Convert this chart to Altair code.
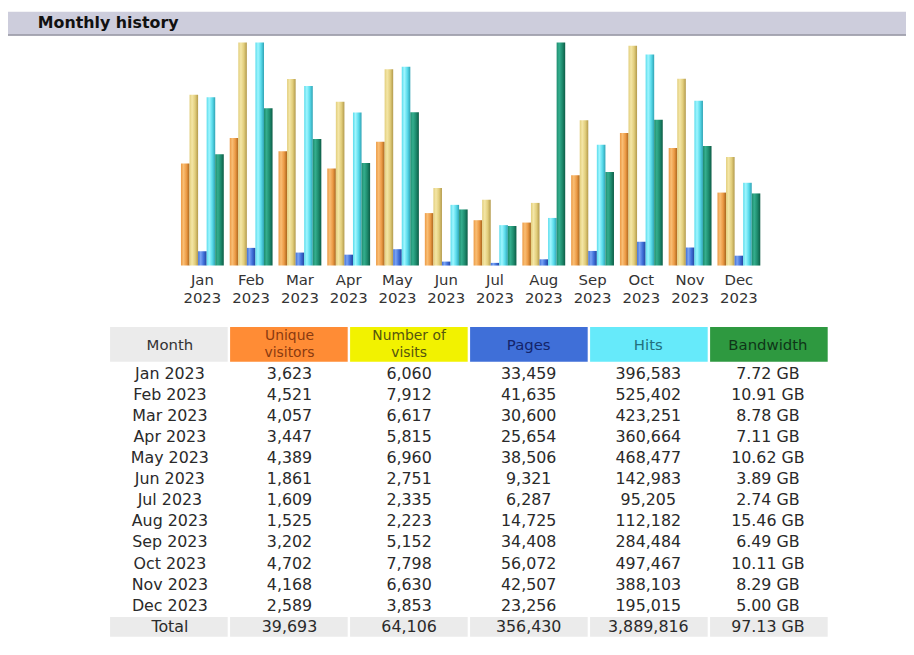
import altair as alt
import pandas as pd

# ---------------- data ----------------
months = ["Jan", "Feb", "Mar", "Apr", "May", "Jun", "Jul", "Aug", "Sep", "Oct", "Nov", "Dec"]
year = "2023"
visitors = [3623, 4521, 4057, 3447, 4389, 1861, 1609, 1525, 3202, 4702, 4168, 2589]
visits = [6060, 7912, 6617, 5815, 6960, 2751, 2335, 2223, 5152, 7798, 6630, 3853]
pages = [33459, 41635, 30600, 25654, 38506, 9321, 6287, 14725, 34408, 56072, 42507, 23256]
hits = [396583, 525402, 423251, 360664, 468477, 142983, 95205, 112182, 284484, 497467, 388103, 195015]
bandwidth_gb = [7.72, 10.91, 8.78, 7.11, 10.62, 3.89, 2.74, 15.46, 6.49, 10.11, 8.29, 5.00]
totals = ["Total", "39,693", "64,106", "356,430", "3,889,816", "97.13 GB"]

title_text = "Monthly history"
col_keys = ["Month", "Unique visitors", "Number of visits", "Pages", "Hits", "Bandwidth"]
col_line1 = ["Month", "Unique", "Number of", "Pages", "Hits", "Bandwidth"]
col_line2 = ["", "visitors", "visits", "", "", ""]
series_keys = ["visitors", "visits", "pages", "hits", "bandwidth"]

# ---------------- styles ----------------
FONT = "DejaVu Sans"
W, H = 906, 639
header_bg = ["#EBEBEB", "#FF8C35", "#F2F200", "#3F6FD8", "#66EAFA", "#2E9940"]
header_fg = ["#333333", "#8A3A10", "#55550F", "#14246A", "#22707E", "#0F3518"]
grads = {
    "visitors": ("#F9BE74", "#EC9A45", "#A9651C"),
    "visits": ("#F4E6A6", "#E2CE7C", "#B39A4C"),
    "pages": ("#7AA4F4", "#3F6FD8", "#24449E"),
    "hits": ("#A0F6FF", "#5ADCEC", "#2FA3B4"),
    "bandwidth": ("#34AE8E", "#1E8C6E", "#0D5C46"),
}

# ---------------- derived tables ----------------
max_visits = max(visits)
max_hits = max(hits)
max_bw = max(bandwidth_gb)
rows = []
for i, m in enumerate(months):
    rows.append({"month": m, "series": "visitors", "norm": visitors[i] / max_visits})
    rows.append({"month": m, "series": "visits", "norm": visits[i] / max_visits})
    rows.append({"month": m, "series": "pages", "norm": pages[i] / max_hits})
    rows.append({"month": m, "series": "hits", "norm": hits[i] / max_hits})
    rows.append({"month": m, "series": "bandwidth", "norm": bandwidth_gb[i] / max_bw})
bars_df = pd.DataFrame(rows)

labels_df = pd.DataFrame({"month": months, "year": [year] * len(months)})

row_keys = [f"{m} {year}" for m in months] + ["Total"]
cells = []
for i, m in enumerate(months):
    vals = [f"{m} {year}", f"{visitors[i]:,}", f"{visits[i]:,}", f"{pages[i]:,}",
            f"{hits[i]:,}", f"{bandwidth_gb[i]:.2f} GB"]
    for c, v in zip(col_keys, vals):
        cells.append({"row": f"{m} {year}", "col": c, "text": v})
for c, v in zip(col_keys, totals):
    cells.append({"row": "Total", "col": c, "text": v})
cells_df = pd.DataFrame(cells)

head_df = pd.DataFrame({"col": col_keys, "l1": col_line1, "l2": col_line2})
title_df = pd.DataFrame({"title": [title_text]})

# ---------------- header band ----------------
band = alt.Chart(title_df).mark_rect(color="#CDCDDC").encode(
    x=alt.value(0), x2=alt.value(W), y=alt.value(1), y2=alt.value(24))
band_line = alt.Chart(title_df).mark_rule(color="#8E8E9C", strokeWidth=1.5).encode(
    x=alt.value(0), x2=alt.value(W), y=alt.value(24.5))
title = alt.Chart(title_df).mark_text(
    align="left", baseline="middle", font=FONT, fontSize=16, fontWeight="bold", color="#111111"
).encode(x=alt.value(30), y=alt.value(12.5), text="title:N")

# ---------------- bar chart ----------------
def xscale():
    return alt.Scale(domain=months, range=[171.5, 762], paddingInner=0.122, paddingOuter=0.061)

def yscale():
    return alt.Scale(domain=[0, 1], range=[257, 32])

bar_layers = []
for key in series_keys:
    light, mid, dark = grads[key]
    grad = alt.Gradient(
        gradient="linear", x1=0, x2=1, y1=0, y2=0,
        stops=[alt.GradientStop(color=mid, offset=0),
               alt.GradientStop(color=light, offset=0.3),
               alt.GradientStop(color=mid, offset=0.65),
               alt.GradientStop(color=dark, offset=1)])
    bar_layers.append(
        alt.Chart(bars_df).transform_filter(alt.datum.series == key).mark_bar(fill=grad).encode(
            x=alt.X("month:N", scale=xscale(), axis=None),
            xOffset=alt.XOffset("series:N", scale=alt.Scale(domain=series_keys, paddingInner=0, paddingOuter=0)),
            y=alt.Y("norm:Q", scale=yscale(), axis=None),
        )
    )

month_labels = alt.Chart(labels_df).transform_calculate(
    label="datum.month + '\\n' + datum.year"
).mark_text(font=FONT, fontSize=15, color="#333333", baseline="middle", lineBreak="\n", lineHeight=18).encode(
    x=alt.X("month:N", scale=xscale(), axis=None), y=alt.value(272), text="label:N")

# ---------------- table ----------------
def tx():
    return alt.Scale(domain=col_keys, range=[103, 827], paddingInner=0.02, paddingOuter=0)

def ty():
    return alt.Scale(domain=row_keys, range=[355.35, 632.25], paddingInner=0.06, paddingOuter=0.03)

def hcolor():
    return alt.Color("col:N", scale=alt.Scale(domain=col_keys, range=header_fg), legend=None)

head_rect = alt.Chart(head_df).mark_rect().encode(
    x=alt.X("col:N", scale=tx(), axis=None),
    y=alt.value(319), y2=alt.value(354),
    fill=alt.Fill("col:N", scale=alt.Scale(domain=col_keys, range=header_bg), legend=None),
)
head_single = alt.Chart(head_df).transform_filter(alt.datum.l2 == "").mark_text(
    font=FONT, fontSize=15, baseline="middle").encode(
    x=alt.X("col:N", scale=tx(), axis=None), y=alt.value(337), text="l1:N", color=hcolor())
head_double = alt.Chart(head_df).transform_filter(alt.datum.l2 != "").transform_calculate(
    label="datum.l1 + '\\n' + datum.l2"
).mark_text(font=FONT, fontSize=14, baseline="middle", lineBreak="\n", lineHeight=17).encode(
    x=alt.X("col:N", scale=tx(), axis=None), y=alt.value(328.5), text="label:N", color=hcolor())

total_rect = alt.Chart(cells_df).transform_filter(alt.datum.row == "Total").mark_rect(color="#EBEBEB").encode(
    x=alt.X("col:N", scale=tx(), axis=None),
    y=alt.Y("row:N", scale=ty(), axis=None),
)
body_text = alt.Chart(cells_df).mark_text(font=FONT, fontSize=16, color="#2A2A2A", baseline="middle").encode(
    x=alt.X("col:N", scale=tx(), axis=None),
    y=alt.Y("row:N", scale=ty(), axis=None),
    text="text:N",
)

chart = alt.layer(
    band, band_line, title, *bar_layers, month_labels,
    head_rect, head_single, head_double, total_rect, body_text
).resolve_scale(
    x="independent", y="independent", xOffset="independent", color="independent", fill="independent"
).properties(
    width=W, height=H, padding=0, autosize=alt.AutoSizeParams(type="none"), background="white"
).configure_view(stroke=None)

chart.save("out.html", embed_options={"renderer": "svg", "actions": False})
